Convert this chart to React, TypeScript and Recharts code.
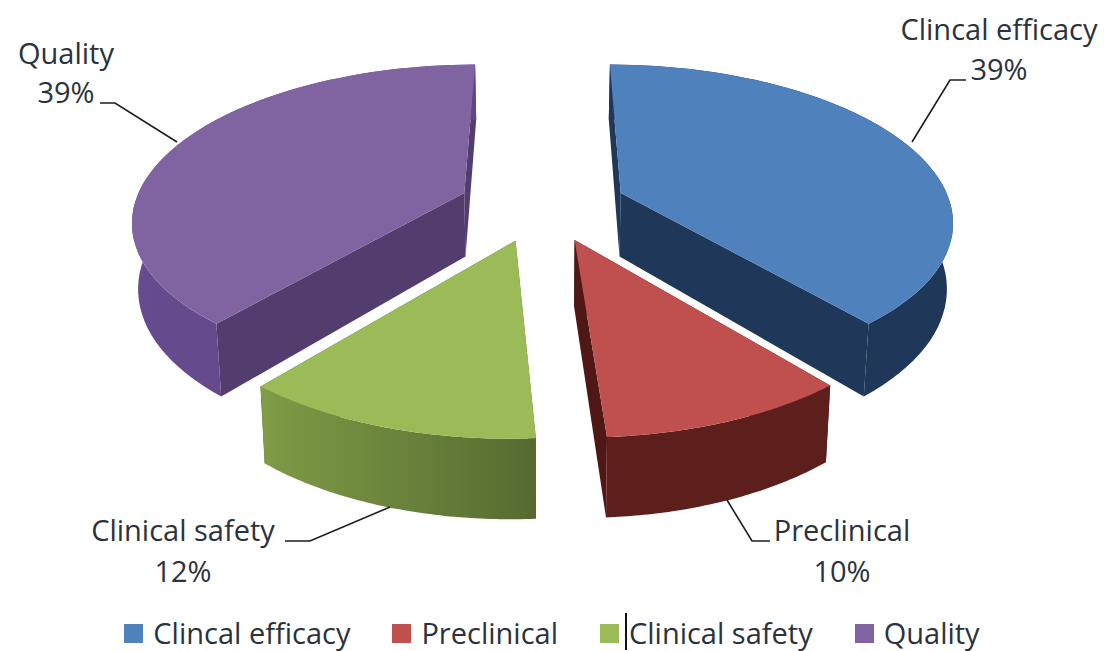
import { PieChart, Pie, Legend } from "recharts";

const categories = ["Clincal efficacy", "Preclinical", "Clinical safety", "Quality"];
const shares = [39, 10, 12, 39];
const topColors = ["#4f81bd", "#c0504d", "#9bbb59", "#8064a2"];
const rimColors = [
  ["#1f3759", "#1f3759"],
  ["#5c1f1c", "#5c1f1c"],
  ["#7f9c46", "#566a30"],
  ["#664b8e", "#5f4686"],
];
const edgeColors = ["#1f3759", "#4f1815", "#566a30", "#523d6e"];

// label text centres and leader line elbows, in chart pixels
const labelCenters = [
  { x: 999, name: 40, pct: 80 },
  { x: 842, name: 541, pct: 582 },
  { x: 183, name: 541, pct: 582 },
  { x: 66, name: 64, pct: 103 },
];
const leaders = [
  [[912, 142], [950, 80], [966, 80]],
  [[727, 500], [752, 541], [770, 541]],
  [[390, 507], [310, 541], [285, 541]],
  [[177, 142], [115, 103], [100, 103]],
];

const rows = categories.map((name, i) => ({ name, value: shares[i], fill: topColors[i] }));

const FONT = "'Open Sans', sans-serif";
const TEXT = "#2b323b";
const FONT_SIZE = 29;

// tilted-disc projection used by the slices
const EXPLODE_X = 81.7;
const EXPLODE_Z = 77;
const RIM_X = 0.986;
const TILT = 0.47;
const PERSPECTIVE = 0.0005;
const X_SCALE = 1.03;
const DEPTH = 64.5;
const BASE_SHRINK = 0.985;

type Pt = [number, number];

function project(cx: number, cy: number, x: number, z: number, bottom: boolean): Pt {
  const s = 1 / (1 + z * PERSPECTIVE);
  return [cx + x * X_SCALE * s * (bottom ? BASE_SHRINK : 1), cy - z * TILT * s + (bottom ? DEPTH * s : 0)];
}

const toPath = (pts: Pt[]) =>
  "M" + pts.map((p) => `${p[0].toFixed(1)},${p[1].toFixed(1)}`).join("L") + "Z";

function Slice3D(props: any) {
  const { cx, cy, outerRadius, startAngle, endAngle, name, fill } = props;
  const idx = categories.indexOf(name);
  const rad = Math.PI / 180;
  const mid = ((startAngle + endAngle) / 2) * rad;
  const ox = EXPLODE_X * Math.cos(mid);
  const oz = EXPLODE_Z * Math.sin(mid);

  const steps = 60;
  const top: Pt[] = [];
  const base: Pt[] = [];
  for (let i = 0; i <= steps; i++) {
    const a = (startAngle + ((endAngle - startAngle) * i) / steps) * rad;
    const x = ox + outerRadius * RIM_X * Math.cos(a);
    const z = oz + outerRadius * Math.sin(a);
    top.push(project(cx, cy, x, z, false));
    base.push(project(cx, cy, x, z, true));
  }
  const apexTop = project(cx, cy, ox, oz, false);
  const apexBase = project(cx, cy, ox, oz, true);
  const gradId = `rim-${idx}`;

  return (
    <g>
      <defs>
        <linearGradient id={gradId} x1="0" y1="0" x2="1" y2="0">
          <stop offset="0%" stopColor={rimColors[idx][0]} />
          <stop offset="100%" stopColor={rimColors[idx][1]} />
        </linearGradient>
      </defs>
      <path d={toPath([apexTop, top[0], base[0], apexBase])} fill={edgeColors[idx]} />
      <path d={toPath([apexTop, top[steps], base[steps], apexBase])} fill={edgeColors[idx]} />
      <path d={toPath([...top, ...[...base].reverse()])} fill={`url(#${gradId})`} />
      <path d={toPath([apexTop, ...top])} fill={fill} />
    </g>
  );
}

function SliceLabel(props: any) {
  const i = props.index;
  const c = labelCenters[i];
  const pts = leaders[i].map((p) => p.join(",")).join(" ");
  return (
    <g>
      <polyline points={pts} fill="none" stroke="#1c1c1c" strokeWidth={1.6} />
      <text x={c.x} y={c.name} textAnchor="middle" fontFamily={FONT} fontSize={FONT_SIZE} fill={TEXT}>
        {categories[i]}
      </text>
      <text x={c.x} y={c.pct} textAnchor="middle" fontFamily={FONT} fontSize={FONT_SIZE} fill={TEXT}>
        {`${shares[i]}%`}
      </text>
    </g>
  );
}

function LegendRow({ payload }: any) {
  return (
    <div style={{ display: "flex", justifyContent: "center", gap: 42, fontFamily: FONT, fontSize: FONT_SIZE, color: TEXT, lineHeight: "38px" }}>
      {(payload || []).map((item: any) => (
        <div key={item.value} style={{ display: "flex", alignItems: "center", gap: 10 }}>
          <span style={{ width: 19, height: 19, background: item.color, display: "block" }} />
          <span>{item.value}</span>
        </div>
      ))}
    </div>
  );
}

export default function App() {
  return (
    <div style={{ position: "absolute", left: 0, top: 0, width: 1104, height: 651, background: "#fff" }}>
      <PieChart width={1104} height={651} margin={{ top: 0, right: 0, bottom: 0, left: 0 }}>
        <Pie
          data={rows}
          dataKey="value"
          nameKey="name"
          cx={542.5}
          cy={205}
          outerRadius={325}
          startAngle={90}
          endAngle={-270}
          stroke="none"
          isAnimationActive={false}
          shape={Slice3D}
          label={SliceLabel}
          labelLine={false}
        />
        <Legend
          layout="horizontal"
          align="left"
          verticalAlign="bottom"
          itemSorter={null}
          wrapperStyle={{ left: 0, top: 614, bottom: "auto", width: 1104 }}
          content={LegendRow}
        />
      </PieChart>
      <div style={{ position: "absolute", left: 625, top: 613, width: 2, height: 37, background: "#111" }} />
    </div>
  );
}
